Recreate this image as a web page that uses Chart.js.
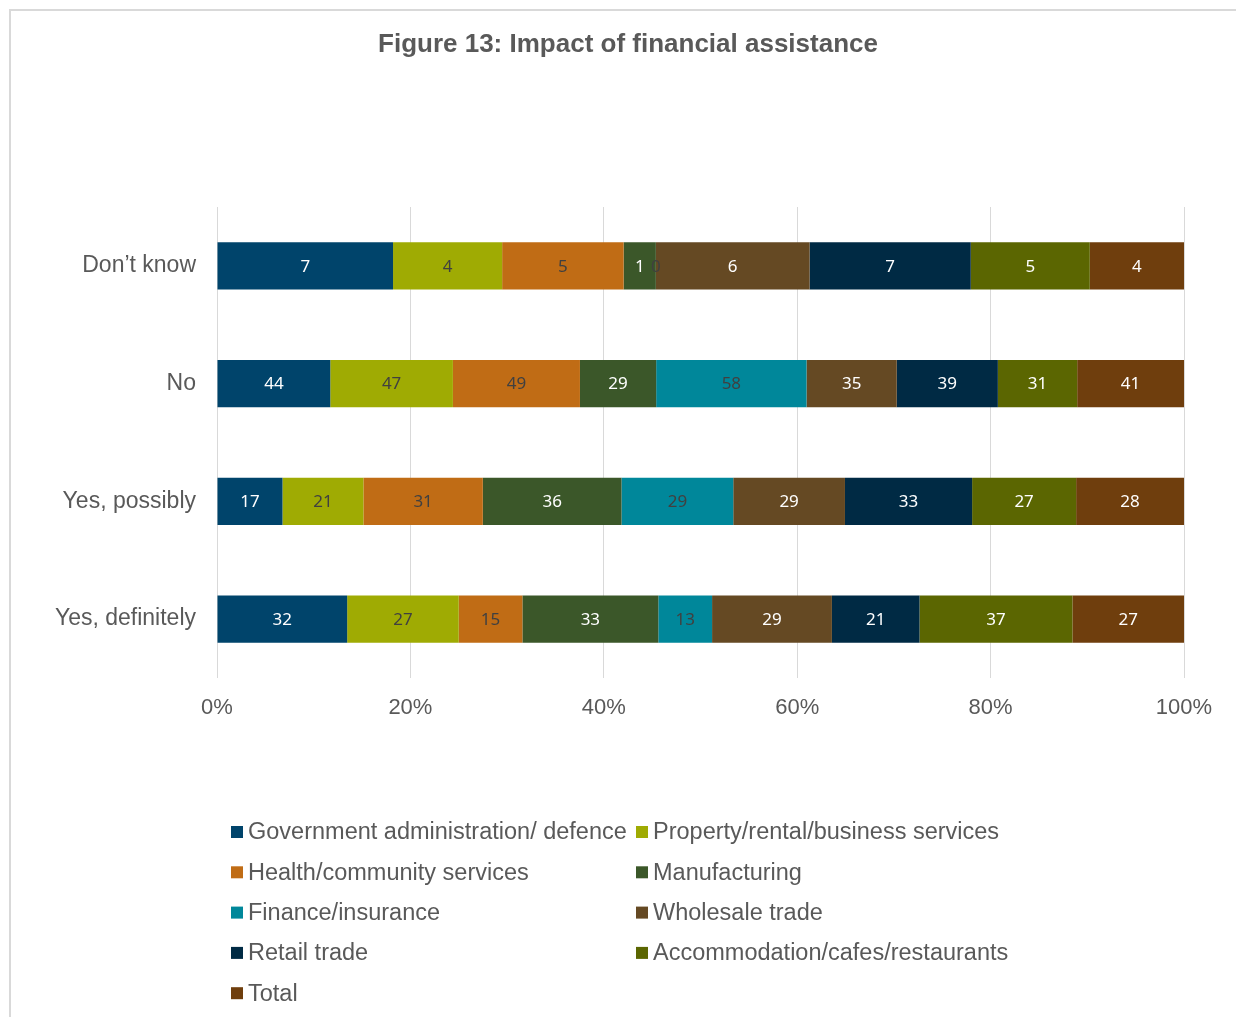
<!DOCTYPE html>
<html lang="en">
<head>
    <meta charset="UTF-8">
    <title>Figure 13: Impact of financial assistance</title>
    <style>
        html, body { margin: 0; padding: 0; background: #fff; }
        .moldura {
            position: absolute; left: 9px; top: 9px; width: 1240px; height: 1020px;
            border-left: 2px solid #d9d9d9; border-top: 2px solid #d9d9d9;
        }
        #grafico { position: absolute; left: 0; top: 0; }
    </style>
</head>
<body>
    <div class="moldura"></div>
    <canvas id="grafico" width="1236" height="1017"></canvas>

    <script src="https://cdn.jsdelivr.net/npm/chart.js"></script>
    <script>
        // categorias (eixo y)
        const categorias = ['Don\u2019t know', 'No', 'Yes, possibly', 'Yes, definitely'];

        const governo = [7.1, 43.7, 17, 31.5];
        const imobiliario = [4.4, 47.3, 21, 27];
        const saude = [4.9, 49, 31, 15.4];
        const manufatura = [1.3, 29.4, 36, 32.9];
        const financas = [0, 58, 29, 13];
        const atacado = [6.2, 34.8, 29, 29];
        const varejo = [6.5, 39, 33, 21.2];
        const hospedagem = [4.8, 30.6, 27, 37];
        const total = [3.8, 41.2, 28, 27];

        const ticksX = [0, 20, 40, 60, 80, 100];

        const series = [
            { label: 'Government administration/ defence', valores: governo, cor: '#00446b', corTexto: '#ffffff' },
            { label: 'Property/rental/business services', valores: imobiliario, cor: '#9fab03', corTexto: '#404040' },
            { label: 'Health/community services', valores: saude, cor: '#c06c15', corTexto: '#404040' },
            { label: 'Manufacturing', valores: manufatura, cor: '#3b5729', corTexto: '#ffffff' },
            { label: 'Finance/insurance', valores: financas, cor: '#00879a', corTexto: '#404040' },
            { label: 'Wholesale trade', valores: atacado, cor: '#654923', corTexto: '#ffffff' },
            { label: 'Retail trade', valores: varejo, cor: '#002a44', corTexto: '#ffffff' },
            { label: 'Accommodation/cafes/restaurants', valores: hospedagem, cor: '#5b6601', corTexto: '#ffffff' },
            { label: 'Total', valores: total, cor: '#6f3e0d', corTexto: '#ffffff' }
        ];

        // soma de cada linha, para o empilhamento em 100%
        const somas = categorias.map((c, i) => series.reduce((s, d) => s + d.valores[i], 0));

        const fonteArial = '"Liberation Sans", Arial, sans-serif';
        const cinza = '#595959';

        // rotulos com o valor no meio de cada barra
        const rotulosPlugin = {
            id: 'rotulos',
            afterDatasetsDraw(chart) {
                const ctx = chart.ctx;
                ctx.save();
                ctx.font = '17px "Noto Sans", sans-serif';
                ctx.textAlign = 'center';
                ctx.textBaseline = 'middle';
                chart.data.datasets.forEach((ds, di) => {
                    chart.getDatasetMeta(di).data.forEach((bar, i) => {
                        const cx = (bar.x + bar.base) / 2;
                        ctx.fillStyle = ds.corTexto;
                        ctx.fillText(String(Math.round(ds.brutos[i])), cx, bar.y + 1);
                    });
                });
                ctx.restore();
            }
        };

        // titulo e legenda em duas colunas
        const molduraPlugin = {
            id: 'moldura',
            afterDraw(chart) {
                const ctx = chart.ctx;
                ctx.save();
                ctx.fillStyle = cinza;
                ctx.font = 'bold 26px ' + fonteArial;
                ctx.textAlign = 'center';
                ctx.textBaseline = 'middle';
                ctx.fillText('Figure 13: Impact of financial assistance', 628, 45);

                ctx.font = '23.5px ' + fonteArial;
                ctx.textAlign = 'left';
                chart.data.datasets.forEach((ds, i) => {
                    const col = i % 2;
                    const lin = Math.floor(i / 2);
                    const x = col === 0 ? 231 : 636;
                    const y = 832 + lin * 40.3;
                    ctx.fillStyle = ds.backgroundColor;
                    ctx.fillRect(x, y - 6, 12, 12);
                    ctx.fillStyle = cinza;
                    ctx.fillText(ds.label, x + 17, y + 1);
                });
                ctx.restore();
            }
        };

        new Chart(document.getElementById('grafico'), {
            type: 'bar',
            data: {
                labels: categorias,
                datasets: series.map(s => ({
                    label: s.label,
                    data: s.valores.map((v, i) => v / somas[i] * 100),
                    brutos: s.valores,
                    corTexto: s.corTexto,
                    backgroundColor: s.cor,
                    borderWidth: 0,
                    categoryPercentage: 1,
                    barPercentage: 0.4
                }))
            },
            options: {
                indexAxis: 'y',
                responsive: false,
                animation: false,
                layout: { padding: { left: 0, right: 52, top: 207, bottom: 279 } },
                scales: {
                    x: {
                        stacked: true,
                        min: 0,
                        max: 100,
                        afterBuildTicks: scale => { scale.ticks = ticksX.map(v => ({ value: v })); },
                        afterFit: scale => { scale.height = 60; },
                        border: { display: false },
                        grid: { color: '#d9d9d9', lineWidth: 1, drawTicks: false },
                        ticks: {
                            padding: 17,
                            color: cinza,
                            font: { family: fonteArial, size: 22 },
                            callback: v => v + '%'
                        }
                    },
                    y: {
                        stacked: true,
                        afterFit: scale => { scale.width = 217; },
                        border: { display: false },
                        grid: { display: false, drawTicks: false },
                        ticks: {
                            padding: 21,
                            color: cinza,
                            font: { family: fonteArial, size: 23 }
                        }
                    }
                },
                plugins: {
                    legend: { display: false },
                    title: { display: false },
                    tooltip: { enabled: false }
                }
            },
            plugins: [rotulosPlugin, molduraPlugin]
        });
    </script>
</body>
</html>
